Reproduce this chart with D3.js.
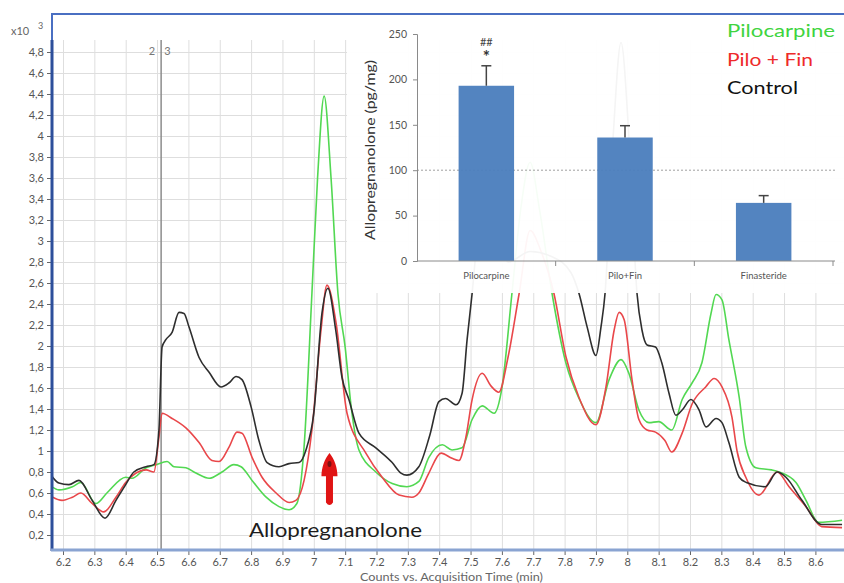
<!DOCTYPE html>
<html>
<head>
<meta charset="utf-8">
<script src="https://cdn.jsdelivr.net/npm/d3@7"></script>
<style>
  body { margin: 0; background: #fff; }
  svg { display: block; font-family: Lato, "Open Sans", sans-serif; }
</style>
</head>
<body>
<svg id="chart" width="844" height="583"></svg>
<script>
// chromatogram traces: [time (min), counts x10^3]
const pilocarpineTrace = [[6.155,0.68],[6.187,0.63],[6.23,0.66],[6.257,0.70],[6.305,0.50],[6.34,0.60],[6.40,0.75],[6.42,0.74],[6.465,0.84],[6.497,0.87],[6.532,0.90],[6.554,0.85],[6.592,0.84],[6.624,0.79],[6.666,0.74],[6.707,0.80],[6.745,0.87],[6.768,0.85],[6.803,0.72],[6.848,0.56],[6.889,0.47],[6.921,0.44],[6.946,0.50],[6.969,1.04],[6.994,2.5],[7.012,3.6],[7.033,4.38],[7.055,3.6],[7.077,2.5],[7.10,1.99],[7.12,1.4],[7.144,1.01],[7.198,0.80],[7.25,0.69],[7.297,0.66],[7.335,0.71],[7.367,0.94],[7.41,1.06],[7.441,1.01],[7.473,1.03],[7.505,1.30],[7.537,1.43],[7.575,1.36],[7.60,1.6],[7.632,2.5],[7.66,3.3],[7.69,3.75],[7.72,3.3],[7.76,2.5],[7.804,1.84],[7.846,1.5],[7.9,1.27],[7.942,1.68],[7.98,1.87],[8.005,1.74],[8.037,1.39],[8.069,1.27],[8.10,1.28],[8.142,1.2],[8.175,1.49],[8.207,1.65],[8.238,1.84],[8.267,2.31],[8.283,2.49],[8.302,2.44],[8.324,2.06],[8.357,1.51],[8.378,1.04],[8.41,0.84],[8.46,0.82],[8.484,0.80],[8.538,0.70],[8.57,0.53],[8.61,0.32],[8.685,0.34]];
const piloFinTrace = [[6.155,0.58],[6.197,0.53],[6.23,0.56],[6.257,0.60],[6.293,0.50],[6.33,0.42],[6.369,0.56],[6.40,0.70],[6.433,0.79],[6.465,0.82],[6.49,0.80],[6.506,1.13],[6.516,1.36],[6.548,1.31],[6.592,1.22],[6.634,1.08],[6.675,0.91],[6.698,0.90],[6.73,1.04],[6.755,1.18],[6.771,1.17],[6.803,0.94],[6.835,0.75],[6.88,0.60],[6.921,0.51],[6.943,0.53],[6.969,0.72],[6.994,1.2],[7.023,2.15],[7.042,2.58],[7.071,2.22],[7.106,1.36],[7.166,0.98],[7.218,0.75],[7.272,0.58],[7.313,0.56],[7.335,0.60],[7.367,0.79],[7.406,0.98],[7.441,0.93],[7.463,0.91],[7.485,1.13],[7.505,1.49],[7.537,1.74],[7.565,1.62],[7.59,1.56],[7.62,1.9],[7.655,2.5],[7.69,3.1],[7.725,2.9],[7.766,2.5],[7.804,1.9],[7.846,1.51],[7.9,1.25],[7.932,1.61],[7.958,2.15],[7.974,2.32],[7.99,2.25],[8.015,1.68],[8.037,1.30],[8.063,1.20],[8.09,1.18],[8.12,1.10],[8.142,0.99],[8.175,1.17],[8.207,1.45],[8.25,1.61],[8.277,1.69],[8.302,1.61],[8.334,1.32],[8.35,1.0],[8.378,0.75],[8.42,0.58],[8.478,0.80],[8.516,0.66],[8.57,0.47],[8.62,0.28],[8.685,0.27]];
const controlTrace = [[6.155,0.80],[6.187,0.695],[6.219,0.68],[6.251,0.72],[6.293,0.53],[6.334,0.36],[6.369,0.53],[6.40,0.68],[6.426,0.80],[6.465,0.85],[6.49,0.87],[6.506,1.2],[6.516,1.99],[6.528,2.06],[6.548,2.13],[6.57,2.32],[6.586,2.31],[6.602,2.18],[6.634,1.89],[6.666,1.75],[6.704,1.61],[6.73,1.65],[6.752,1.71],[6.771,1.68],[6.80,1.42],[6.825,1.10],[6.851,0.89],[6.889,0.85],[6.921,0.88],[6.953,0.89],[6.975,1.01],[7.0,1.36],[7.026,2.31],[7.045,2.55],[7.07,2.15],[7.09,1.7],[7.112,1.49],[7.144,1.17],[7.198,1.03],[7.25,0.89],[7.278,0.79],[7.297,0.77],[7.335,0.85],[7.37,1.15],[7.399,1.47],[7.42,1.5],[7.454,1.44],[7.473,1.55],[7.489,2.06],[7.505,2.5],[7.53,3.3],[7.556,3.72],[7.585,3.2],[7.62,2.8],[7.69,2.9],[7.76,2.85],[7.82,2.7],[7.846,2.5],[7.872,2.18],[7.9,1.91],[7.916,2.18],[7.929,2.5],[7.955,4.0],[7.98,4.89],[8.005,4.0],[8.031,2.5],[8.047,2.15],[8.063,2.01],[8.09,1.99],[8.11,1.84],[8.133,1.55],[8.155,1.34],[8.175,1.39],[8.203,1.49],[8.229,1.39],[8.251,1.23],[8.283,1.31],[8.302,1.27],[8.324,1.08],[8.357,0.75],[8.38,0.70],[8.44,0.66],[8.478,0.80],[8.506,0.75],[8.557,0.53],[8.62,0.30],[8.685,0.30]];

const xTickValues = [6.2,6.3,6.4,6.5,6.6,6.7,6.8,6.9,7.0,7.1,7.2,7.3,7.4,7.5,7.6,7.7,7.8,7.9,8.0,8.1,8.2,8.3,8.4,8.5,8.6];
const yTickValues = [0.2,0.4,0.6,0.8,1.0,1.2,1.4,1.6,1.8,2.0,2.2,2.4,2.6,2.8,3.0,3.2,3.4,3.6,3.8,4.0,4.2,4.4,4.6,4.8];
const markerTime = 6.513;   // vertical cursor "2 | 3"
const arrowTime = 7.05;     // allopregnanolone peak
const arrowSpan = [0.98, 0.76, 0.48]; // tip, head base, tail (x10^3)

// inset bar chart
const barCategories = ["Pilocarpine", "Pilo+Fin", "Finasteride"];
const barValues = [193, 136, 64];
const barErrors = [22, 13, 8];
const barTickValues = [0, 50, 100, 150, 200, 250];
const legendLabels = ["Pilocarpine", "Pilo + Fin", "Control"];
const legendColors = ["#3fd43f", "#ee2a2a", "#111111"];

const svg = d3.select("#chart");

// scales of the chromatogram
const x = d3.scaleLinear().domain([6.2, 8.6]).range([63, 815.4]);
const y = d3.scaleLinear().domain([0, 4.8]).range([556, 52]);
const plot = {left: 52, right: 844, top: 40, bottom: 550};

svg.append("defs").append("clipPath").attr("id", "plotclip")
  .append("rect")
  .attr("x", plot.left).attr("y", plot.top)
  .attr("width", plot.right - plot.left).attr("height", plot.bottom - plot.top);

// grid
const gx = svg.append("g")
  .attr("transform", "translate(0," + plot.bottom + ")")
  .call(d3.axisBottom(x).tickValues(xTickValues).tickSize(-(plot.bottom - plot.top)).tickFormat(""));
gx.select(".domain").remove();
gx.selectAll("line").attr("stroke", "#dedede");

const gy = svg.append("g")
  .attr("transform", "translate(" + plot.left + ",0)")
  .call(d3.axisLeft(y).tickValues(yTickValues).tickSize(-(plot.right - plot.left)).tickFormat(""));
gy.select(".domain").remove();
gy.selectAll("line").attr("stroke", "#dedede");

// cursor line
svg.append("line")
  .attr("x1", x(markerTime)).attr("x2", x(markerTime))
  .attr("y1", plot.top).attr("y2", plot.bottom)
  .attr("stroke", "#8c8c8c").attr("stroke-width", 1.5);
svg.append("text").attr("x", x(markerTime) - 6).attr("y", 55)
  .attr("text-anchor", "end").attr("font-size", 11).attr("fill", "#777").text("2");
svg.append("text").attr("x", x(markerTime) + 3).attr("y", 55)
  .attr("font-size", 11).attr("fill", "#777").text("3");

// traces
const line = d3.line()
  .x(d => x(d[0]))
  .y(d => y(d[1]))
  .curve(d3.curveMonotoneX);

const traces = svg.append("g").attr("clip-path", "url(#plotclip)");
[[pilocarpineTrace, "#52d852"], [piloFinTrace, "#e9474a"], [controlTrace, "#2e2e2e"]]
  .forEach(function(t) {
    traces.append("path")
      .datum(t[0])
      .attr("fill", "none")
      .attr("stroke", t[1])
      .attr("stroke-width", 1.6)
      .attr("stroke-linejoin", "round")
      .attr("d", line);
  });

// frame and axes
svg.append("line").attr("x1", 51).attr("x2", 844).attr("y1", 14).attr("y2", 14)
  .attr("stroke", "#4a6fc2").attr("stroke-width", 2);
svg.append("line").attr("x1", 52).attr("x2", 52).attr("y1", 13).attr("y2", 40)
  .attr("stroke", "#4a6fc2").attr("stroke-width", 2);

const yAxis = svg.append("g")
  .attr("transform", "translate(" + plot.left + ",0)")
  .call(d3.axisLeft(y).tickValues(yTickValues).tickSize(5).tickPadding(3)
    .tickFormat(d => String(+d.toFixed(1)).replace(".", ",")));
yAxis.select(".domain").remove();
yAxis.selectAll("line").attr("stroke", "#666");
yAxis.selectAll("text").attr("font-size", 11).attr("fill", "#555").attr("font-family", "Lato, sans-serif");

const xAxis = svg.append("g")
  .attr("transform", "translate(0," + (plot.bottom + 1) + ")")
  .call(d3.axisBottom(x).tickValues(xTickValues).tickSize(4).tickPadding(3)
    .tickFormat(d => String(+d.toFixed(1))));
xAxis.select(".domain").remove();
xAxis.selectAll("line").attr("stroke", "#666");
xAxis.selectAll("text").attr("font-size", 11).attr("fill", "#555").attr("font-family", "Lato, sans-serif");

svg.append("line").attr("x1", 52).attr("x2", 52).attr("y1", plot.top).attr("y2", plot.bottom + 1)
  .attr("stroke", "#2d4f9b").attr("stroke-width", 3);
svg.append("line").attr("x1", 51).attr("x2", 844).attr("y1", plot.bottom).attr("y2", plot.bottom)
  .attr("stroke", "#8aa4d2").attr("stroke-width", 3);

svg.append("text").attr("x", 11).attr("y", 35).attr("font-size", 11).attr("fill", "#666").text("x10");
svg.append("text").attr("x", 38).attr("y", 29).attr("font-size", 9).attr("fill", "#666").text("3");

svg.append("text").attr("x", 360).attr("y", 581)
  .attr("font-size", 10.5).attr("fill", "#666")
  .attr("textLength", 183).attr("lengthAdjust", "spacingAndGlyphs")
  .text("Counts vs. Acquisition Time (min)");

// annotation arrow
const ax = x(arrowTime);
const tipY = y(arrowSpan[0]), headY = y(arrowSpan[1]), tailY = y(arrowSpan[2]);
svg.append("path")
  .attr("d", "M" + ax + "," + tipY +
    " C" + (ax + 5) + "," + (tipY + 6) + " " + (ax + 8) + "," + (headY - 8) + " " + (ax + 8) + "," + headY +
    " L" + (ax + 3.5) + "," + headY +
    " L" + (ax + 3.5) + "," + (tailY - 3) +
    " Q" + ax + "," + (tailY + 2) + " " + (ax - 3.5) + "," + (tailY - 3) +
    " L" + (ax - 3.5) + "," + headY +
    " L" + (ax - 8) + "," + headY +
    " C" + (ax - 8) + "," + (headY - 8) + " " + (ax - 5) + "," + (tipY + 6) + " " + ax + "," + tipY + "Z")
  .attr("fill", "#e01414");
svg.append("ellipse").attr("cx", ax).attr("cy", tipY + 11).attr("rx", 2).attr("ry", 3).attr("fill", "#7a1010");

svg.append("text").attr("x", 249).attr("y", 537)
  .attr("font-size", 20).attr("fill", "#1c1c1c")
  .attr("textLength", 173).attr("lengthAdjust", "spacingAndGlyphs")
  .text("Allopregnanolone");

// ---- inset bar chart (pasted over the trace, slightly see-through) ----
const inset = svg.append("g");
inset.append("rect").attr("x", 347).attr("y", 15).attr("width", 497).attr("height", 278)
  .attr("fill", "#fff").attr("opacity", 0.95);

const xb = d3.scaleBand().domain(barCategories).range([417, 833]).padding(0);
const yb = d3.scaleLinear().domain([0, 250]).range([261, 34]);
const barW = xb.bandwidth() * 0.4;

inset.append("line")
  .attr("x1", 417).attr("x2", 835).attr("y1", yb(100)).attr("y2", yb(100))
  .attr("stroke", "#a0a0a0").attr("stroke-dasharray", "2,2");

inset.selectAll("rect.bar").data(barCategories).join("rect")
  .attr("class", "bar")
  .attr("x", d => xb(d) + (xb.bandwidth() - barW) / 2)
  .attr("y", (d, i) => yb(barValues[i]))
  .attr("width", barW)
  .attr("height", (d, i) => yb(0) - yb(barValues[i]))
  .attr("fill", "#4a7dbd").attr("opacity", 0.95);

const eb = inset.selectAll("g.err").data(barCategories).join("g").attr("class", "err");
eb.append("line")
  .attr("x1", d => xb(d) + xb.bandwidth() / 2).attr("x2", d => xb(d) + xb.bandwidth() / 2)
  .attr("y1", (d, i) => yb(barValues[i])).attr("y2", (d, i) => yb(barValues[i] + barErrors[i]))
  .attr("stroke", "#444").attr("stroke-width", 1.5);
eb.append("line")
  .attr("x1", d => xb(d) + xb.bandwidth() / 2 - 5).attr("x2", d => xb(d) + xb.bandwidth() / 2 + 5)
  .attr("y1", (d, i) => yb(barValues[i] + barErrors[i])).attr("y2", (d, i) => yb(barValues[i] + barErrors[i]))
  .attr("stroke", "#444").attr("stroke-width", 1.5);

const yba = inset.append("g").attr("transform", "translate(417,0)")
  .call(d3.axisLeft(yb).tickValues(barTickValues).tickSize(4).tickPadding(6));
yba.select(".domain").attr("stroke", "#8a8a8a");
yba.selectAll("line").attr("stroke", "#8a8a8a");
yba.selectAll("text").attr("font-size", 10.5).attr("fill", "#555").attr("font-family", "Lato, sans-serif");

const xba = inset.append("g").attr("transform", "translate(0,261)")
  .call(d3.axisBottom(xb).tickSize(0).tickPadding(11));
xba.select(".domain").attr("stroke", "#8a8a8a").attr("d", "M417,0H835");
xba.selectAll("text").attr("font-size", 9.5).attr("fill", "#555").attr("font-family", "Lato, sans-serif");
inset.selectAll("line.bt").data(barCategories).join("line").attr("class", "bt")
  .attr("x1", d => xb(d) + xb.bandwidth()).attr("x2", d => xb(d) + xb.bandwidth())
  .attr("y1", 261).attr("y2", 266).attr("stroke", "#8a8a8a");

inset.append("text")
  .attr("transform", "translate(375,150) rotate(-90)")
  .attr("text-anchor", "middle").attr("font-size", 14).attr("fill", "#333")
  .attr("textLength", 180).attr("lengthAdjust", "spacingAndGlyphs")
  .text("Allopregnanolone (pg/mg)");

const c0 = xb(barCategories[0]) + xb.bandwidth() / 2;
inset.append("text").attr("x", c0).attr("y", 46).attr("text-anchor", "middle")
  .attr("font-size", 11).attr("fill", "#444").text("##");
inset.append("text").attr("x", c0).attr("y", 63).attr("text-anchor", "middle")
  .attr("font-size", 17).attr("font-weight", 700).attr("fill", "#333").text("*");

// legend
inset.selectAll("text.leg").data(legendLabels).join("text")
  .attr("class", "leg")
  .attr("x", 727)
  .attr("y", (d, i) => 37 + i * 28.5)
  .attr("font-size", 18)
  .attr("fill", (d, i) => legendColors[i])
  .attr("textLength", (d, i) => [108, 86, 71][i])
  .attr("lengthAdjust", "spacingAndGlyphs")
  .text(d => d);
</script>
</body>
</html>
